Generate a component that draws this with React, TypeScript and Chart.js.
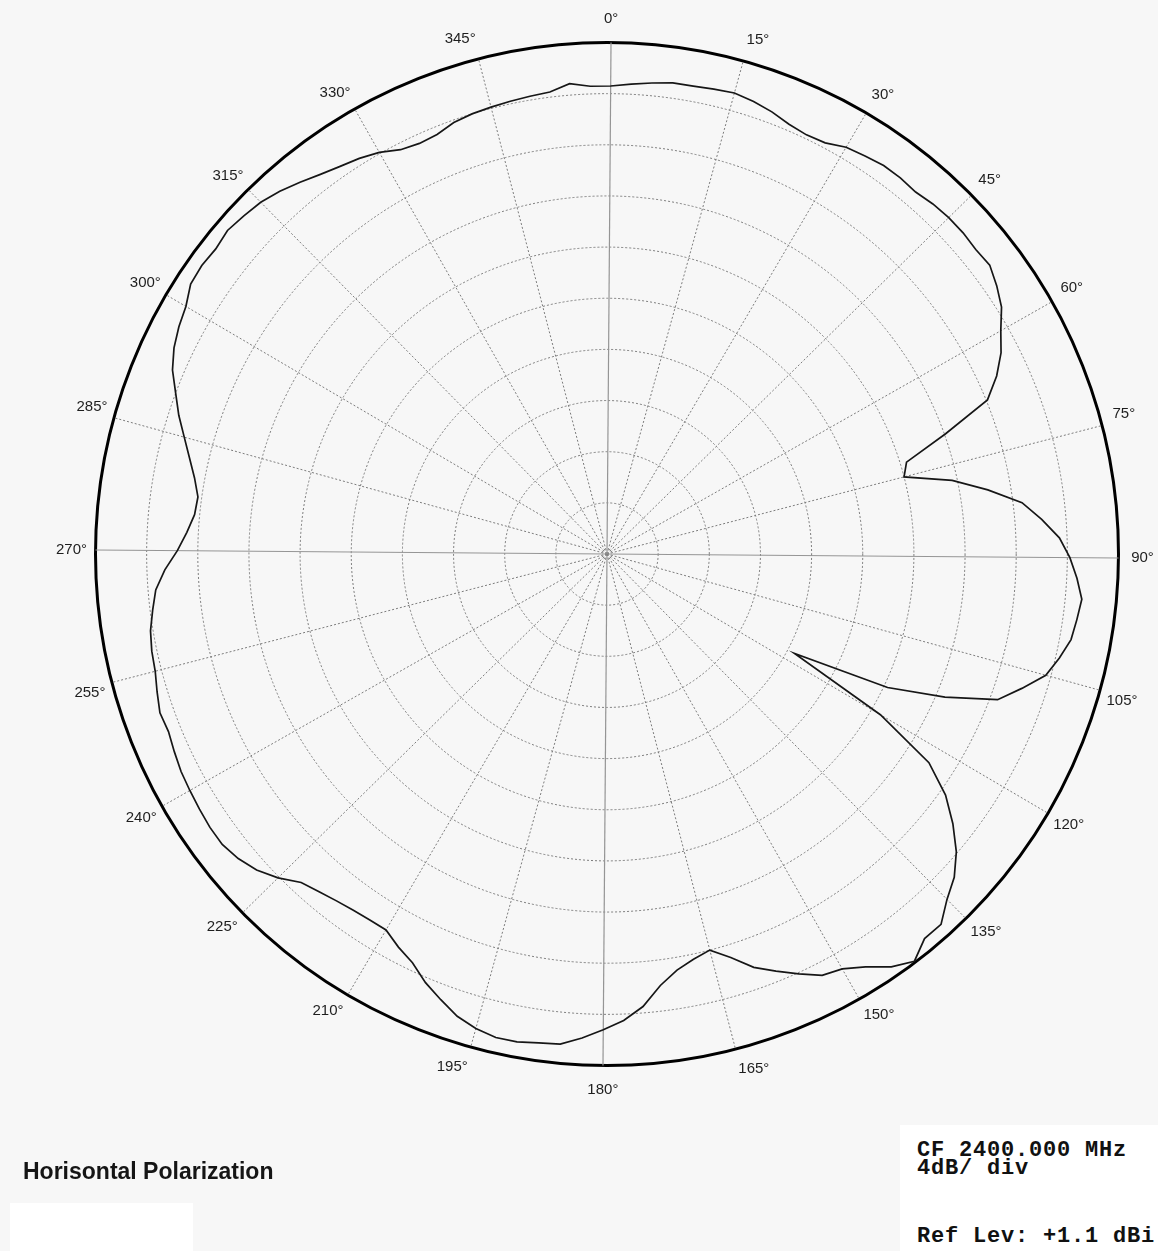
import { useEffect, useRef } from 'react';
import { Chart, registerables } from 'chart.js';

Chart.register(...registerables);

// Angular sampling of the measured pattern (degrees, clockwise from 0°)
const ANGLE_STEP = 2.5;

// Relative gain (dB, outer ring = 0 dB), every 2.5°
const gainDb = [
  -3.4, -3.2, -3.0, -2.8, -2.8, -2.7, -2.6, -2.8, -3.1, -3.5, -3.7, -3.6,
  -3.1, -2.9, -2.7, -2.7, -2.8, -2.6, -2.5, -2.5, -2.6, -2.5, -3.0, -3.6,
  -4.6, -5.4, -6.5, -7.9, -11.9, -15.5, -16.0, -12.4, -9.8, -7.3, -5.9, -4.6,
  -3.8, -3.2, -2.7, -2.9, -3.1, -3.7, -4.4, -5.9, -7.4, -11.3, -15.7, -23.4,
  -15.2, -10.0, -7.5, -5.7, -4.1, -2.9, -2.1, -1.0, -1.0, -0.1, -0.8, -1.9,
  -2.7, -3.0, -3.9, -4.8, -5.7, -7.0, -8.0, -7.6, -7.0, -6.0, -4.5, -3.5,
  -2.8, -2.1, -1.5, -1.4, -1.2, -1.2, -1.5, -2.0, -2.8, -3.6, -4.6, -5.2,
  -5.9, -5.9, -5.8, -5.6, -5.3, -4.9, -3.9, -3.1, -2.6, -2.3, -2.3, -2.4,
  -2.5, -2.6, -2.8, -3.0, -2.9, -3.2, -3.5, -3.6, -3.8, -4.2, -4.6, -5.4,
  -6.4, -7.1, -7.6, -7.7, -7.2, -6.5, -5.7, -4.8, -4.0, -3.1, -2.5, -2.1,
  -1.8, -1.2, -1.1, -1.2, -1.0, -1.2, -1.4, -1.8, -2.3, -2.8, -3.2, -3.5,
  -3.9, -4.5, -4.7, -4.6, -4.2, -4.0, -3.9, -3.8, -3.7, -3.6, -3.1, -3.4,
];

// Angle categories (one per sample)
const angleCategories = gainDb.map((_, i) => i * ANGLE_STEP);

// Angle tick labels shown around the ring (every 15°)
const angleTickLabels = [
  '0°', '15°', '30°', '45°', '60°', '75°', '90°', '105°', '120°', '135°', '150°', '165°',
  '180°', '195°', '210°', '225°', '240°', '255°', '270°', '285°', '300°', '315°', '330°', '345°',
];

// Radial scale: 10 divisions of 4 dB
const ringMin = -40;
const ringMax = 0;
const ringStep = 4;

const titleText = 'Horisontal Polarization';
const infoLines = ['CF 2400.000 MHz', '4dB/ div'];
const refLine = 'Ref Lev: +1.1 dBi';

const LABEL_FONT_SIZE = 15;
const LABEL_FAMILY = "'Liberation Sans', Arial, Helvetica, sans-serif";
const LABEL_CENTER_OFFSET = 24;

const monoStyle = {
  position: 'absolute' as const,
  left: 917,
  fontFamily: "'Liberation Mono', 'DejaVu Sans Mono', monospace",
  fontWeight: 'bold' as const,
  fontSize: 22,
  letterSpacing: '0.8px',
  lineHeight: '18px',
  color: '#111111',
  whiteSpace: 'pre' as const,
};

export default function App() {
  const canvasRef = useRef<HTMLCanvasElement>(null);

  useEffect(() => {
    const canvas = canvasRef.current;
    if (!canvas) return;
    const c2d = canvas.getContext('2d');
    if (!c2d) return;
    c2d.font = `${LABEL_FONT_SIZE}px ${LABEL_FAMILY}`;
    const lh = LABEL_FONT_SIZE * 1.2;

    const pads = angleCategories.map((deg) => {
      if (deg % 15 !== 0) return 0;
      const text = angleTickLabels[deg / 15];
      const w = c2d.measureText(text).width;
      const th = (deg * Math.PI) / 180;
      const sx = deg === 0 || deg === 180 ? 0 : deg < 180 ? 1 : -1;
      const sy = deg === 90 || deg === 270 ? 0 : deg > 270 || deg < 90 ? -1 : 1;
      const off = sx * (w / 2) * Math.sin(th) + sy * (lh / 2) * -Math.cos(th);
      return Math.max(0, LABEL_CENTER_OFFSET - off);
    });

    const majorEvery = 15 / ANGLE_STEP;
    const axisEvery = 90 / ANGLE_STEP;

    const chart = new Chart(canvas, {
      type: 'radar',
      data: {
        labels: angleCategories,
        datasets: [
          {
            data: gainDb,
            borderColor: '#161616',
            borderWidth: 1.7,
            fill: false,
            pointRadius: 0,
            pointHitRadius: 0,
            tension: 0,
          },
        ],
      },
      options: {
        responsive: false,
        animation: false,
        events: [],
        layout: { padding: { left: 54, right: 2, top: 3, bottom: 146 } },
        plugins: { legend: { display: false }, tooltip: { enabled: false } },
        scales: {
          r: {
            min: ringMin,
            max: ringMax,
            startAngle: 0.45,
            ticks: { display: false, stepSize: ringStep },
            grid: {
              circular: true,
              color: (ctx: any) => (ctx.index === 10 ? '#000000' : '#7c7c7c'),
              lineWidth: (ctx: any) => (ctx.index === 10 ? 3 : 1),
            },
            border: {
              dash: (ctx: any) => (ctx.index === 10 ? [] : [2, 2]),
            },
            angleLines: {
              display: true,
              color: (ctx: any) => (ctx.index % axisEvery === 0 ? '#959595' : '#7c7c7c'),
              lineWidth: (ctx: any) =>
                ctx.index % axisEvery === 0 ? 1.2 : ctx.index % majorEvery === 0 ? 1 : 0,
              borderDash: (ctx: any) => (ctx.index % axisEvery === 0 ? [] : [2, 2]),
            },
            pointLabels: {
              display: true,
              color: '#1e1e1e',
              font: { size: LABEL_FONT_SIZE, family: LABEL_FAMILY },
              padding: (ctx: any) => pads[ctx.index] ?? 0,
              callback: (label: any) => {
                const deg = Number(label);
                return deg % 15 === 0 ? angleTickLabels[deg / 15] : '';
              },
            },
          },
        },
      },
    } as any);

    return () => chart.destroy();
  }, []);

  return (
    <div
      style={{
        position: 'absolute',
        left: 0,
        top: 0,
        width: 1158,
        height: 1251,
        background: '#f7f7f7',
        overflow: 'hidden',
      }}
    >
      <canvas
        ref={canvasRef}
        width={1158}
        height={1251}
        style={{ position: 'absolute', left: 0, top: 0, width: 1158, height: 1251 }}
      />
      <div
        style={{
          position: 'absolute',
          left: 23,
          top: 1160,
          fontFamily: "'Liberation Sans', Arial, Helvetica, sans-serif",
          fontWeight: 'bold',
          fontSize: 23,
          lineHeight: '23px',
          color: '#151515',
          whiteSpace: 'nowrap',
        }}
      >
        {titleText}
      </div>
      <div
        style={{ position: 'absolute', left: 10, top: 1203, width: 183, height: 48, background: '#ffffff' }}
      />
      <div
        style={{ position: 'absolute', left: 900, top: 1125, width: 258, height: 126, background: '#ffffff' }}
      />
      <div style={{ ...monoStyle, top: 1142 }}>{infoLines.join('\n')}</div>
      <div style={{ ...monoStyle, top: 1228 }}>{refLine}</div>
    </div>
  );
}
